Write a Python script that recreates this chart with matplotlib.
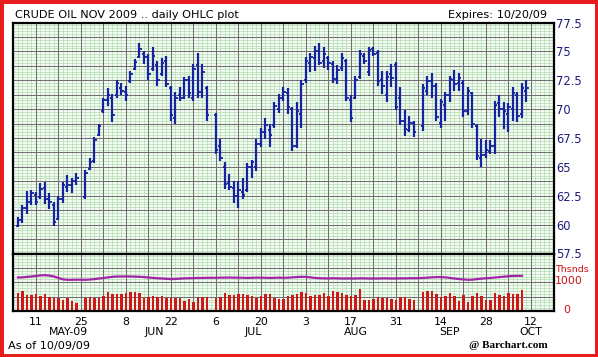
import numpy as np
import matplotlib.pyplot as plt
from matplotlib.patches import Rectangle

nan = np.nan

# daily bars, weekdays Tue 5 May 2009 .. Fri 9 Oct 2009, one row per week (nan = holiday)
highs = [60.65, 61.66, 62.95, 63.0,
         62.8, 63.6, 63.7, 62.7, 61.95,
         62.5, 63.7, 64.3, 64.0, 64.5,
         nan, 64.7, 65.8, 67.6, 68.7,
         71.0, 71.8, 71.3, 72.5, 72.3,
         72.0, 73.3, 74.3, 75.7, 75.0,
         74.8, 75.4, 74.2, 74.4, 74.6,
         72.0, 71.5, 71.9, 72.8, 72.9,
         73.9, 74.9, 73.9, 72.0, nan,
         69.7, 67.4, 65.4, 64.4, 63.8,
         63.8, 64.0, 65.3, 65.6, 67.4,
         68.4, 69.2, 68.7, 70.6, 71.3,
         71.9, 71.8, 70.2, 70.6, 72.5,
         74.5, 74.9, 75.5, 75.7, 75.4,
         74.6, 74.2, 73.8, 74.9, 74.3,
         71.2, 72.9, 75.1, 74.9, 75.4,
         75.4, 75.1, 73.3, 73.3, 73.9,
         74.1, 71.9, 69.9, 69.4, 69.0,
         nan, 72.2, 72.9, 73.1, 72.3,
         70.9, 71.5, 72.9, 73.4, 73.1,
         72.5, 71.9, 71.5, 68.7, 67.4,
         67.3, 67.3, 70.7, 71.2, 70.6,
         70.5, 71.9, 71.5, 72.3, 72.5]
lows = [59.78, 60.15, 60.93, 61.66,
        61.66, 62.23, 61.8, 61.37, 59.9,
        60.4, 61.9, 62.8, 62.7, 63.4,
        nan, 62.2, 64.7, 65.3, 67.7,
        69.7, 70.3, 68.9, 71.0, 71.2,
        70.7, 72.3, 73.4, 74.4, 73.9,
        72.5, 73.3, 72.0, 72.9, 71.9,
        69.0, 68.7, 70.7, 70.9, 71.0,
        70.7, 71.0, 71.0, 69.0, nan,
        66.1, 65.5, 63.1, 63.0, 61.9,
        61.4, 62.2, 62.8, 64.0, 64.6,
        66.7, 67.4, 66.7, 68.4, 69.7,
        70.7, 69.6, 66.4, 66.6, 68.4,
        72.3, 73.2, 73.3, 73.8, 73.6,
        73.4, 72.3, 72.2, 73.3, 70.7,
        68.9, 70.9, 72.6, 73.9, 72.9,
        74.6, 72.0, 71.3, 70.6, 71.9,
        69.9, 68.6, 67.7, 68.0, 67.6,
        nan, 68.1, 71.2, 71.0, 69.0,
        68.4, 69.0, 70.6, 71.6, 71.6,
        69.3, 69.5, 68.4, 65.6, 65.0,
        65.8, 66.1, 66.1, 69.3, 68.3,
        68.0, 69.0, 68.9, 69.2, 70.6]
opens = [59.9, 60.4, 61.4, 62.0,
         62.6, 62.4, 63.2, 62.2, 61.7,
         60.5, 62.2, 63.3, 63.4, 63.8,
         nan, 62.4, 64.8, 65.5, 67.8,
         69.8, 70.8, 71.0, 71.2, 71.8,
         71.5, 72.4, 73.5, 74.5, 74.8,
         74.5, 73.5, 73.8, 73.0, 74.2,
         71.8, 69.2, 71.2, 71.0, 72.5,
         71.0, 73.8, 71.5, 71.8, nan,
         69.5, 66.8, 65.0, 63.6, 63.2,
         62.5, 62.8, 63.0, 65.0, 65.0,
         67.0, 68.0, 68.2, 68.6, 70.0,
         71.0, 71.4, 70.0, 66.8, 69.6,
         72.5, 74.0, 74.4, 75.0, 74.2,
         74.4, 73.9, 72.6, 73.6, 74.2,
         70.8, 71.0, 72.8, 74.6, 73.2,
         75.2, 74.9, 72.5, 71.2, 73.0,
         73.8, 71.0, 69.0, 68.2, 68.8,
         nan, 68.5, 71.6, 72.4, 72.0,
         68.8, 70.4, 71.2, 72.5, 72.3,
         72.3, 69.8, 71.4, 68.5, 65.8,
         66.0, 66.4, 66.8, 70.5, 70.0,
         69.6, 70.0, 71.2, 69.6, 71.6]
closes = [60.4, 61.4, 62.0, 62.7,
          62.0, 63.1, 62.2, 62.0, 60.2,
          62.2, 63.4, 63.4, 63.8, 64.0,
          nan, 64.5, 65.4, 67.3, 68.5,
          70.8, 71.2, 69.5, 72.3, 71.6,
          71.2, 73.0, 74.1, 75.2, 74.5,
          73.0, 74.6, 72.5, 74.0, 72.2,
          69.5, 71.0, 71.0, 72.5, 71.4,
          73.5, 71.5, 73.2, 69.5, nan,
          66.5, 65.8, 63.5, 63.3, 62.5,
          63.0, 62.6, 65.0, 65.4, 67.0,
          68.0, 68.6, 67.8, 70.3, 71.0,
          71.5, 70.2, 66.8, 69.8, 72.2,
          74.2, 74.5, 75.0, 74.0, 74.8,
          74.0, 72.6, 73.4, 74.4, 71.0,
          69.2, 72.5, 74.8, 74.2, 75.1,
          74.8, 72.4, 72.0, 72.8, 72.7,
          70.2, 69.0, 68.3, 68.8, 68.0,
          nan, 71.8, 72.4, 72.0, 69.3,
          70.6, 71.2, 72.6, 72.2, 72.7,
          69.8, 71.6, 68.7, 65.9, 66.0,
          66.5, 66.8, 70.4, 70.0, 69.8,
          70.2, 71.4, 69.4, 71.8, 71.8]

# volume and open interest, thousands of contracts
volume = [626, 707, 557, 557,
          592, 511, 592, 477, 465,
          442, 385, 442, 362, 270,
          nan, 442, 477, 454, 442,
          511, 649, 592, 592, 592,
          626, 672, 672, 615, 442,
          477, 511, 500, 534, 442,
          454, 454, 442, 362, 420,
          305, 477, 500, 477, nan,
          465, 477, 626, 557, 557,
          592, 603, 557, 534, 465,
          534, 580, 580, 442, 420,
          420, 534, 569, 592, 672,
          626, 534, 557, 557, 626,
          534, 707, 672, 626, 557,
          534, 557, 764, 396, 396,
          420, 488, 442, 442, 420,
          396, 477, 477, 420, 396,
          nan, 672, 695, 707, 592,
          477, 534, 626, 511, 362,
          557, 327, 511, 626, 534,
          373, 396, 626, 557, 511,
          615, 603, 603, 741, nan]
open_int = [1166, 1170, 1185, 1200,
            1220, 1240, 1247, 1230, 1200,
            1150, 1100, 1086, 1086, 1090,
            nan, 1086, 1095, 1110, 1130,
            1150, 1170, 1190, 1200, 1201,
            1205, 1200, 1195, 1190, 1180,
            1165, 1150, 1140, 1130, 1120,
            1109, 1115, 1125, 1135, 1140,
            1145, 1150, 1150, 1155, nan,
            1155, 1160, 1160, 1165, 1160,
            1160, 1155, 1150, 1155, 1160,
            1160, 1155, 1150, 1155, 1160,
            1155, 1160, 1170, 1180, 1189,
            1185, 1170, 1150, 1140, 1135,
            1135, 1140, 1135, 1130, 1130,
            1132, 1130, 1135, 1135, 1130,
            1130, 1130, 1135, 1135, 1130,
            1132, 1135, 1135, 1140, 1140,
            nan, 1150, 1160, 1170, 1178,
            1178, 1170, 1150, 1130, 1110,
            1100, 1086, 1090, 1110, 1125,
            1140, 1150, 1165, 1180, 1195,
            1210, 1220, 1224, 1224, nan]

day_labels = ['11', '25', '8', '22', '6', '20', '3', '17', '31', '14', '28', '12']
month_labels = ['MAY-09', 'JUN', 'JUL', 'AUG', 'SEP', 'OCT']
month_pos = [12.2, 31.2, 53.2, 76.1, 97.0, 115.0]
price_ticks = [57.5, 60, 62.5, 65, 67.5, 70, 72.5, 75, 77.5]
price_labels = ['57.5', '60', '62.5', '65', '67.5', '70', '72.5', '75', '77.5']

W, H = 598, 357
fig = plt.figure(figsize=(W / 100, H / 100), dpi=100)
fig.patch.set_facecolor('white')

def px(x0, y0, x1, y1):
    return [x0 / W, 1 - y1 / H, (x1 - x0) / W, (y1 - y0) / H]

ax = fig.add_axes(px(12.5, 22.5, 553.5, 253.5))
axv = fig.add_axes(px(12.5, 253.5, 553.5, 311))

day = np.arange(1, len(highs) + 1)   # weekday number, Mon 4 May = 0
XMIN, XMAX = -0.22, 120.0

def draw_grid(a, y0, y1, minor, major):
    a.set_facecolor('#f3fbf3')
    for x in np.arange(0, 121):
        a.axvline(x, color='#b6deb6', lw=0.55, zorder=0)
    for y in np.arange(y0, y1 + minor / 2, minor):
        a.axhline(y, color='#b6deb6', lw=0.55, zorder=0)
    for x in np.arange(0, 121, 5):
        a.axvline(x, color='#707070', lw=0.75, zorder=1)
    for y in np.arange(y0, y1 + major / 2, major):
        a.axhline(y, color='#707070', lw=0.75, zorder=1)
    a.set_xlim(XMIN, XMAX)
    a.set_ylim(y0, y1)
    for s in a.spines.values():
        s.set_color('black')
        s.set_linewidth(1.6)
        s.set_zorder(5)

draw_grid(ax, 57.5, 77.5, 0.25, 1.25)
draw_grid(axv, 0, 2000, 100, 500)

# OHLC bars
blue = '#1424a0'
ax.vlines(day, lows, highs, color=blue, lw=1.6, zorder=3)
ax.hlines(opens, day - 0.5, day, color=blue, lw=1.3, zorder=3)
ax.hlines(closes, day, day + 0.5, color=blue, lw=1.3, zorder=3)

ax.yaxis.tick_right()
ax.set_yticks(price_ticks, price_labels)
ax.tick_params(axis='y', length=0, pad=2, labelsize=8.3, labelcolor='#1c1c7c')
ax.set_xticks([])

# volume + open interest
axv.bar(day, volume, width=0.45, color='#d01818', zorder=3)
oi = np.array(open_int)
ok = ~np.isnan(oi)
axv.plot(day[ok], oi[ok], color='#a424a8', lw=1.6, zorder=4)
axv.set_yticks([])
axv.set_xticks(np.arange(5, 120, 10), day_labels)
axv.tick_params(axis='x', length=0, pad=4, labelsize=7.8)
for lab, pos in zip(month_labels, month_pos):
    axv.text(pos, -0.37, lab, transform=axv.get_xaxis_transform(),
             ha='center', va='center', fontsize=7.8)

def ftext(x, y, s, **kw):
    fig.text(x / W, 1 - y / H, s, va='center', **kw)

ftext(15, 15, 'CRUDE OIL NOV 2009 .. daily OHLC plot', fontsize=8.1)
ftext(547, 15, 'Expires: 10/20/09', fontsize=8.1, ha='right')
ftext(555, 270, 'Thsnds', fontsize=6.8, color='#cc1010')
ftext(555, 281, '1000', fontsize=7.8, color='#cc1010')
ftext(567, 310, '0', fontsize=7.8, color='#cc1010', ha='center')
ftext(8, 346, 'As of 10/09/09', fontsize=8.1)
ftext(508, 345, '@ Barchart.com', fontsize=8, fontweight='bold',
      family='Liberation Serif', ha='center')

fig.patches.append(Rectangle((0, 0), 1, 1, transform=fig.transFigure,
                             fill=False, edgecolor='#e81c1c', lw=5, zorder=10))

fig.savefig('out.png', dpi=100)
